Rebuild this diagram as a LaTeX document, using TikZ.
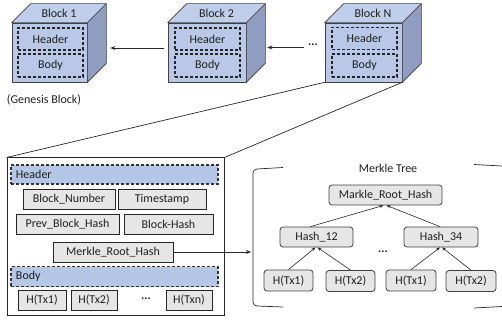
\documentclass[tikz,border=0pt]{standalone}
\usepackage{fontspec}
\setmainfont{Carlito}
\usetikzlibrary{arrows.meta,calc}
\definecolor{cubefront}{HTML}{B8C8E6}
\definecolor{cubetop}{HTML}{BFCEEA}
\definecolor{cubeside}{HTML}{8E9DC0}
\definecolor{cubeline}{HTML}{404040}
\definecolor{barfill}{HTML}{B4C7E7}
\definecolor{boxfill}{HTML}{E6E6E6}
\definecolor{txt}{HTML}{202020}
\tikzset{
  cubeface/.style={draw=cubeline, line width=0.6pt, line join=round},
  front/.style={cubeface, fill=cubefront, inner sep=0pt},
  dashbox/.style={draw=black!85, line width=1.1pt, dash pattern=on 3pt off 2pt, inner sep=0pt, text=txt},
  bar/.style={draw=black!80, line width=1.1pt, dash pattern=on 3pt off 2pt, fill=barfill, inner sep=0pt, text=txt},
  field/.style={draw=black!85, line width=1pt, fill=boxfill, inner sep=0pt, minimum height=20pt, text=txt},
  mbox/.style={draw=cubeline, line width=0.8pt, fill=boxfill, rounded corners=3pt, inner sep=0pt, minimum height=20pt, text=txt},
  arr/.style={-{Stealth[length=5pt,width=4pt]}, line width=0.9pt, black!85},
  tarr/.style={-{Stealth[length=4pt,width=3pt]}, line width=0.6pt, black!85},
  thin line/.style={line width=0.7pt, black!85}
}
\begin{document}
\begin{tikzpicture}[x=1pt,y=-1pt, font=\fontsize{12}{14}\selectfont, text=txt]
\useasboundingbox (0,0) rectangle (502,320);

% ---- cubes (front faces)
\node[front, minimum width=75pt, minimum height=59pt] (b1) at (49.5,52.5) {};
\node[front, minimum width=78pt, minimum height=59pt] (b2) at (207,52.5) {};
\node[front, minimum width=77pt, minimum height=59pt] (bN) at (363.5,52.5) {};
\foreach \b in {b1,b2,bN}{
  \draw[cubeface, fill=cubetop] (\b.north west) -- ($(\b.north west)+(19,-19)$)
     -- ($(\b.north east)+(19,-19)$) -- (\b.north east) -- cycle;
  \draw[cubeface, fill=cubeside] (\b.north east) -- ($(\b.north east)+(19,-19)$)
     -- ($(\b.south east)+(19,-19)$) -- (\b.south east) -- cycle;
}
\node (lb1) at ($(b1.north)+(9.5,-9.5)$) {Block 1};
\node (lb2) at ($(b2.north)+(9.5,-9.5)$) {Block 2};
\node (lbN) at ($(bN.north)+(9.5,-9.5)$) {Block N};

\node[dashbox, minimum width=65pt, minimum height=22pt] (hd1) at (50.5,39) {Header};
\node[dashbox, minimum width=65pt, minimum height=23pt] (bd1) at (50.5,65.5) {Body};
\node[dashbox, minimum width=65pt, minimum height=22pt] (hd2) at (207.5,39) {Header};
\node[dashbox, minimum width=65pt, minimum height=23pt] (bd2) at (207.5,65.5) {Body};
\node[dashbox, minimum width=65pt, minimum height=22pt] (hdN) at (364.5,38.5) {Header};
\node[dashbox, minimum width=65pt, minimum height=23pt] (bdN) at (364.5,65.5) {Body};

\node (gen) at (44,100) {(Genesis Block)};

% block arrows
\node[inner sep=0pt] (dots) at (313,45) {\textbf{...}};
\draw[arr] ($(b2.west)+(-4,-4.5)$) -- ($(b1.east)+(23,-4.5)$);
\coordinate (ds) at ($(dots.west)+(-4,2.5)$);
\draw[arr] (ds) -- ($(b2.east)+(21,-5)$);

% ---- detail box
\node[draw=black!85, line width=1pt, minimum width=217pt, minimum height=157pt, inner sep=0pt] (det) at (115.5,236.5) {};
\draw[thin line] (bN.south west) -- (det.north west);
\draw[thin line] (bN.south east) -- (det.north east);

\node[bar, minimum width=207pt, minimum height=19pt, text width=197pt, align=left] (hdr) at (114.5,174.5) {Header};
\node[field, minimum width=92pt] (bn) at (69,199) {Block\_Number};
\node[field, minimum width=88pt] (ts) at (162,199) {Timestamp};
\node[field, minimum width=103pt] (pbh) at (67.5,224.5) {Prev\_Block\_Hash};
\node[field, minimum width=89pt] (bh) at (168.5,224.5) {Block-Hash};
\node[field, minimum width=120pt] (mrh) at (113,252) {Merkle\_Root\_Hash};
\node[bar, minimum width=207pt, minimum height=20pt, text width=197pt, align=left] (bdy) at (114.5,276.5) {Body};
\node[field, minimum width=48pt] (tx1) at (42,300) {H(Tx1)};
\node[field, minimum width=46pt] (tx2) at (94,300) {H(Tx2)};
\node (txd) at (146,299) {\textbf{...}};
\node[field, minimum width=46pt] (txn) at (189,300) {H(Txn)};

% ---- merkle tree bracket
\draw[thin line] (283,167.5) -- (257,169) to[out=180,in=90] (253,173) -- (253,302)
   to[out=-90,in=180] (257,306) -- (283,307);
\draw[thin line] (474,164.5) -- (502,166);
\draw[thin line] (474,308) -- (502,306.5);
\coordinate (brk) at (251,252);
\draw[arr] (mrh.east) -- (brk);

\node (mt) at (388,168) {Merkle Tree};
\node[mbox, minimum width=113pt] (root) at (385.5,195) {Markle\_Root\_Hash};
\node[mbox, minimum width=73pt] (h12) at (316.5,237) {Hash\_12};
\node[mbox, minimum width=74pt] (h34) at (441,237) {Hash\_34};
\node[mbox, minimum width=49pt, minimum height=21pt] (l1) at (288.5,280.5) {H(Tx1)};
\node[mbox, minimum width=49pt, minimum height=21pt] (l2) at (350.5,281) {H(Tx2)};
\node[mbox, minimum width=50pt, minimum height=21pt] (l3) at (411,280.5) {H(Tx1)};
\node[mbox, minimum width=50pt, minimum height=21pt] (l4) at (471,281) {H(Tx2)};
\node (md) at (383,252) {\textbf{...}};

\draw[tarr] (l1.north) -- ($(h12.south)+(-1,0)$);
\draw[tarr] (l2.north) -- ($(h12.south)+(1,0)$);
\draw[tarr] (l3.north) -- ($(h34.south)+(-1,0)$);
\draw[tarr] (l4.north) -- ($(h34.south)+(1,0)$);
\draw[tarr] ($(h12.north)+(-6,0)$) -- ($(root.south)+(-2,0)$);
\draw[tarr] ($(h34.north)+(-1,0)$) -- ($(root.south)+(1,0)$);
\end{tikzpicture}
\end{document}
